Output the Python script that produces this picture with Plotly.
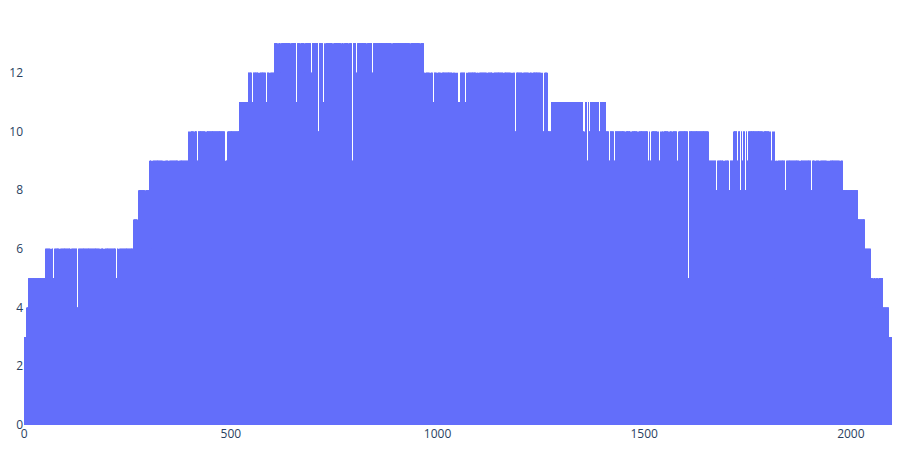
import plotly.graph_objects as go

n_bars = 2100
run_starts = [0, 7, 10, 52, 266, 278, 304, 399, 485, 493, 522, 542, 606, 967, 1266,
              1406, 1655, 1717, 1815, 1981, 2017, 2034, 2048, 2078, 2092]
run_levels = [3, 4, 5, 6, 7, 8, 9, 10, 9, 10, 11, 12, 13, 12, 11,
              10, 9, 10, 9, 8, 7, 6, 5, 4, 3]
dip_x = [65, 71, 86, 113, 129, 184, 193, 223, 229, 275, 293, 309, 336, 340, 350, 374,
         401, 411, 419, 440, 486, 552, 568, 586, 594, 614, 621, 645, 659, 668,
         679, 695, 712, 724, 728, 747, 767, 773, 785, 794, 804, 829, 843, 890, 934, 958,
         970, 982, 990, 999, 1009, 1037, 1043, 1047, 1051, 1054, 1068, 1072, 1095, 1100,
         1120, 1134, 1160, 1178, 1182, 1188, 1189, 1206, 1222, 1229, 1251, 1255, 1258,
         1268, 1271, 1274, 1323, 1335, 1353, 1356, 1363, 1368, 1373, 1384, 1390, 1393,
         1416, 1428, 1454, 1468, 1485, 1510, 1514, 1517, 1533, 1537, 1541, 1546, 1560,
         1568, 1580, 1582, 1607, 1675, 1693, 1706, 1726, 1733, 1738, 1745, 1750, 1788,
         1804, 1808, 1812, 1817, 1822, 1842, 1877, 1905, 1914, 1925, 1943, 1947, 1974,
         2054, 2060, 2066]
dip_vals = [5, 5, 4, 5, 4, 5, 4, 5, 2, 6, 7, 6, 8, 7, 7, 8,
            9, 9, 9, 8, 8, 11, 11, 11, 11, 12, 12, 12, 11, 12,
            12, 12, 10, 11, 12, 10, 11, 11, 12, 9, 12, 11, 12, 12, 12, 12,
            11, 9, 11, 11, 11, 11, 11, 11, 11, 11, 11, 11, 11, 10,
            11, 10, 10, 11, 11, 11, 10, 11, 10, 10, 10, 10, 10,
            10, 10, 10, 9, 10, 10, 9, 9, 10, 7, 9, 10, 10,
            9, 9, 8, 9, 9, 9, 9, 9, 9, 9, 9, 9, 8,
            6, 9, 8, 5, 8, 8, 8, 9, 8, 9, 8, 9, 9,
            8, 9, 9, 5, 7, 8, 8, 8, 7, 7, 8, 8, 8,
            4, 4, 4]

# Expand runs into one value per bar
y = []
for i, start in enumerate(run_starts):
    end = run_starts[i + 1] if i + 1 < len(run_starts) else n_bars
    y += [run_levels[i]] * (end - start)
# each dip covers a couple of bars so it shows at this pixel scale
for xi, v in zip(dip_x, dip_vals):
    for k in (xi - 1, xi, xi + 1):
        y[k] = min(y[k], v)
x = list(range(n_bars))

fig = go.Figure(go.Bar(x=x, y=y, marker=dict(color='#636efa', line_width=0)))

fig.update_layout(
    template='plotly_white',
    margin=dict(l=16, r=0, t=6, b=17),
    showlegend=False,
    bargap=0.2,
    font=dict(family='Open Sans', size=12, color='#2a3f5f'),
)
fig.update_xaxes(showgrid=False, zeroline=False, range=[-0.5, n_bars - 0.5],
                 tickvals=[0, 500, 1000, 1500, 2000], automargin=False)
fig.update_yaxes(showgrid=False, zeroline=False, range=[0, 14], dtick=2, automargin=False)

fig.write_html("out.html")
